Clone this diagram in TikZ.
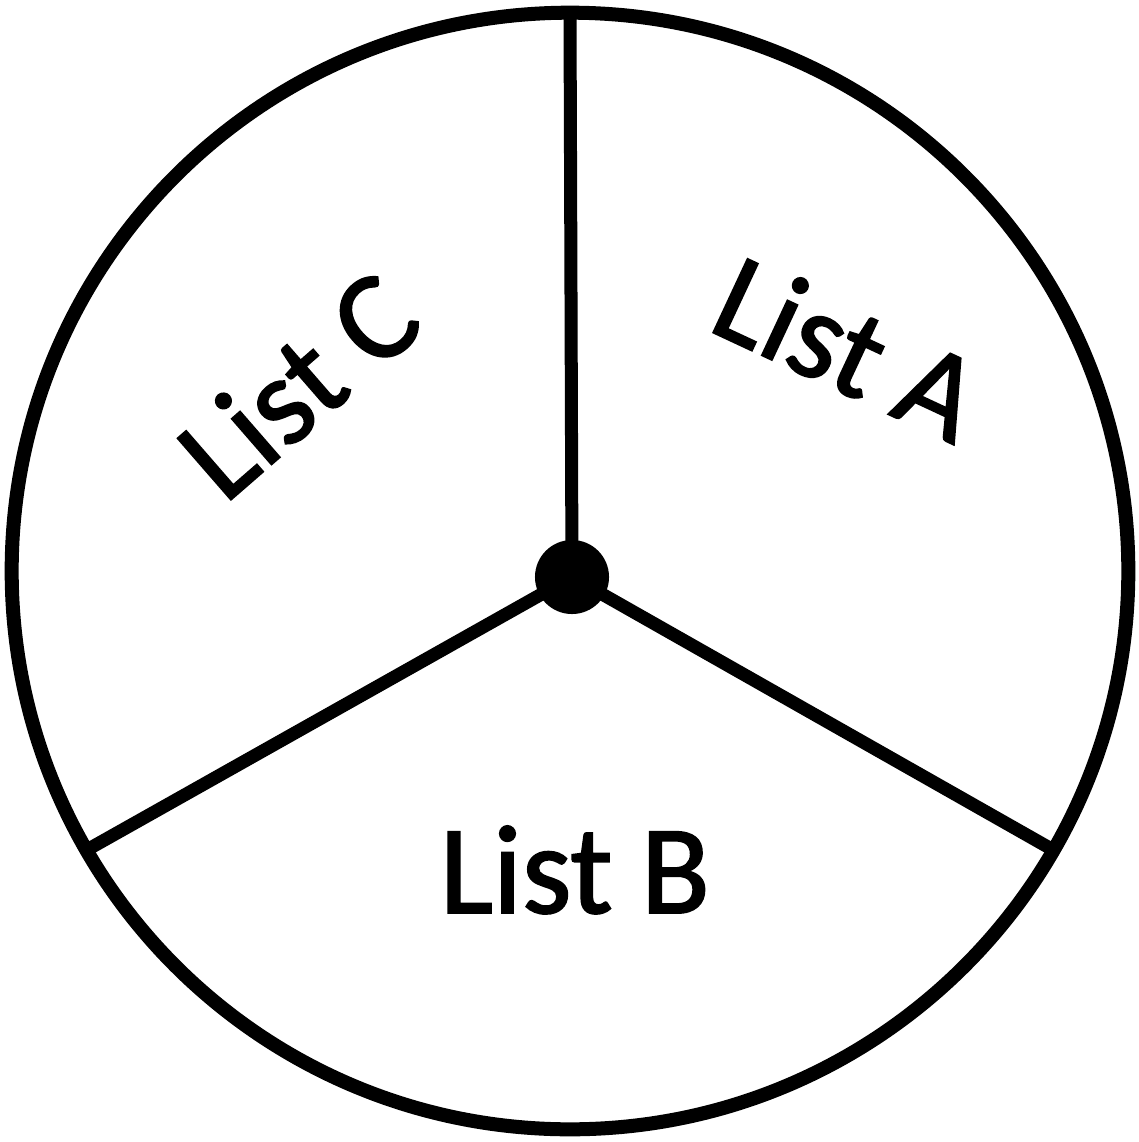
\documentclass[tikz,border=0pt]{standalone}
\usepackage{fontspec}
\setmainfont{Carlito}
\newfontfamily\lblfont[FakeBold=1.5, Ligatures={NoCommon, NoRare, NoDiscretionary}]{Carlito}
\usepackage{tikz}
\usetikzlibrary{positioning, calc}

\begin{document}
\begin{tikzpicture}[
    x=0.01cm, y=-0.01cm,
    wheel/.style={circle, draw=black, line width=0.14cm, minimum size=11.16cm, inner sep=0pt, outer sep=0pt},
    hub/.style={circle, fill=black, minimum size=0.74cm, inner sep=0pt, outer sep=0pt},
    spoke/.style={draw=black, line width=0.13cm},
    lbl/.style={font=\lblfont\fontsize{36}{43}\selectfont, anchor=base, inner sep=0pt}
]
\useasboundingbox (0,0) rectangle (1138,1142);

% ---- Wheel ----
\node[wheel] (rim) at (570,571) {};

% ---- Spokes ----
\coordinate (hubc) at (572,577);
\foreach \ang in {90,-30,210}
    \draw[spoke] (hubc) -- (rim.\ang);
\node[hub] (hub) at (hubc) {};

% ---- Labels ----
\node[lbl, rotate=-25] (lista) at (830,387) {Lis{}t A};
\node[lbl] (listb) at (575,913) {Lis{}t B};
\node[lbl, rotate=41] (listc) at (326,417) {Lis{}t C};

\end{tikzpicture}
\end{document}
